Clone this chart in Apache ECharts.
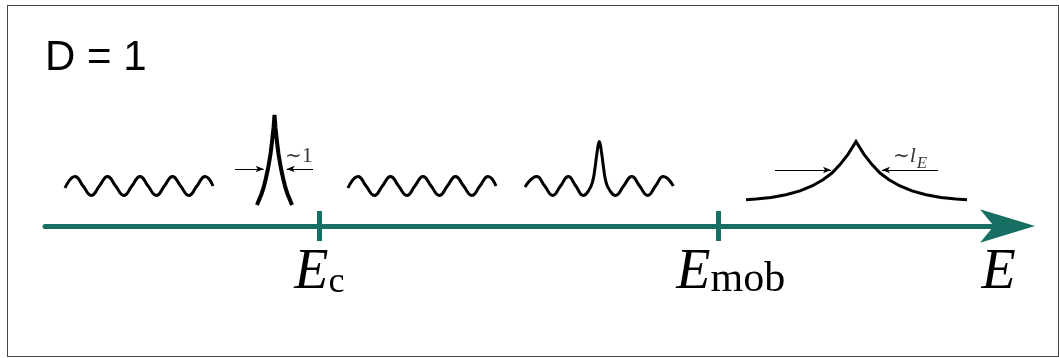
<!DOCTYPE html>
<html>
<head>
<meta charset="utf-8">
<script src="https://cdn.jsdelivr.net/npm/echarts@6/dist/echarts.min.js"></script>
<style>
  html, body { margin: 0; padding: 0; background: #fff; }
  #frame { position: absolute; left: 7px; top: 5px; width: 1052px; height: 352px; box-sizing: border-box; border: 1px solid #444; }
  #chart { position: absolute; left: 0; top: 0; width: 1059px; height: 358px; }
</style>
</head>
<body>
<div id="frame"></div>
<div id="chart"></div>
<script>
// Energy axis (horizontal) and wavefunction height (vertical), in drawing units.
const energyRange = [0, 962.5];
const heightRange = [0, 226];

// Special energies marked on the axis
const Ec = 274.3;
const Emob = 673.7;
const Eend = 953.5;
const tickEnergies = [Ec, Emob];
const labelEnergies = [Ec, Emob, Eend];
const labelTexts = ['{e|E}{s|c}', '{gap| }{e|E}{m|mob}', '{e|E}'];

// Arrowhead at the high-energy end of the axis
const axisHead = [[962.5, 0]];

// Extended state below E_c
const extendedLow = [
  [20, 38], [30, 49.5], [38.1, 40], [46.3, 30.5], [54.4, 40], [62.5, 49.5], [70.6, 40],
  [78.8, 30.5], [86.9, 40], [95, 49.5], [103.1, 40], [111.3, 30.5], [119.4, 40],
  [127.5, 49.5], [135.6, 40], [143.8, 30.5], [151.9, 40], [160, 49.5], [168, 40]
];

// Localized state at E_c (width ~1)
const localizedEc = [
  [212, 21], [214, 26], [216.5, 32], [218.5, 38], [220.5, 46], [222.5, 55], [224, 63],
  [225.5, 72], [227, 84], [228.5, 98], [229.5, 111], [230.5, 98], [232, 84], [233.5, 72],
  [235, 63], [236.5, 55], [238.5, 46], [240.5, 38], [242.5, 32], [245, 26], [247, 21]
];

// Extended state between E_c and E_mob
const extendedMid = [
  [303, 38], [313, 49.5], [321.1, 40], [329.3, 30.5], [337.4, 40], [345.5, 49.5], [353.6, 40],
  [361.8, 30.5], [369.9, 40], [378, 49.5], [386.1, 40], [394.3, 30.5], [402.4, 40],
  [410.5, 49.5], [418.6, 40], [426.8, 30.5], [434.9, 40], [443, 49.5], [451, 40]
];

// Extended state with a resonance peak
const resonant = [
  [480, 39], [491.7, 49.5], [499.7, 40], [507.7, 30.5], [515.5, 40], [523.3, 49.5],
  [530.8, 40], [538.3, 30.5], [544, 36], [547.5, 44], [550, 58], [552, 73], [554.3, 84.5],
  [556.6, 73], [558.6, 58], [561, 44], [564.5, 36], [570.5, 30.5], [578.6, 40],
  [586.7, 49.5], [594.6, 40], [602.7, 30.5], [610.5, 40], [618.3, 49.5], [628.3, 40]
];

// Localized state above E_mob (width ~l_E)
const localizedMob = [
  [701, 26.2], [711, 26.9], [726, 28.6], [741, 31.3], [755, 35.1], [767, 40], [778, 46.3],
  [787, 53], [795, 61.4], [803, 71.6], [811, 84.5], [819, 71.6], [827, 61.4], [835, 53],
  [844, 46.3], [855, 40], [867, 35.1], [881, 31.3], [896, 28.6], [911, 26.9], [922, 26.2]
];

// Width markers: [tail, head]
const widthArrows = [
  [[190, 57], [218.7, 57]],
  [[268, 57], [241.7, 57]],
  [[730, 56], [786, 56]],
  [[893, 56], [837, 56]]
];

// Width annotations: [x, y, text]
const widthNotes = [
  [240, 70, '{t|∼}{n|1}'],
  [848, 70, '{t|∼}{l|l}{sub|E}']
];

const teal = '#176e62';
const serif = 'Liberation Serif, DejaVu Serif, serif';

function curve(name, data, width, smooth) {
  return {
    type: 'line', name: name, data: data,
    smooth: smooth ? 0.5 : false,
    symbol: 'none', showSymbol: false, silent: true, z: 3,
    lineStyle: { color: '#000', width: width, join: 'miter', miterLimit: 8, cap: 'butt' }
  };
}

const chart = echarts.init(document.getElementById('chart'), null, { renderer: 'canvas' });

chart.setOption({
  animation: false,
  backgroundColor: 'transparent',
  title: {
    text: 'D = 1',
    left: 45, top: 37, padding: 0,
    textStyle: { fontFamily: 'Liberation Sans, Arial, sans-serif', fontSize: 42, fontWeight: 'normal', color: '#000' }
  },
  grid: { left: 45, right: 51.5, top: 0, bottom: 132, containLabel: false },
  xAxis: [
    {
      type: 'value', min: energyRange[0], max: energyRange[1], position: 'bottom',
      axisLine: { show: true, onZero: false, symbol: ['none', 'none'],
        lineStyle: { color: teal, width: 5 } },
      axisTick: { show: true, customValues: tickEnergies, length: 15, inside: false,
        lineStyle: { color: teal, width: 5 } },
      axisLabel: {
        show: true, customValues: labelEnergies, margin: 19,
        formatter: function (v) {
          let best = 0;
          labelEnergies.forEach(function (e, i) { if (Math.abs(e - v) < Math.abs(labelEnergies[best] - v)) best = i; });
          return labelTexts[best];
        },
        rich: {
          e: { fontFamily: serif, fontStyle: 'italic', fontSize: 56, lineHeight: 56, verticalAlign: 'bottom', color: '#000' },
          s: { fontFamily: serif, fontSize: 36, lineHeight: 42, verticalAlign: 'bottom', color: '#000' },
          m: { fontFamily: serif, fontSize: 42, lineHeight: 48, verticalAlign: 'bottom', color: '#000' },
          gap: { width: 24, fontSize: 10, lineHeight: 10 }
        }
      },
      splitLine: { show: false }
    },
    {
      type: 'value', min: energyRange[0], max: energyRange[1], position: 'bottom',
      axisLine: { show: false, onZero: false },
      axisTick: { show: true, customValues: tickEnergies, length: 15, inside: true,
        lineStyle: { color: teal, width: 5 } },
      axisLabel: { show: false },
      splitLine: { show: false }
    }
  ],
  yAxis: { type: 'value', min: heightRange[0], max: heightRange[1], show: false, splitLine: { show: false } },
  series: [
    {
      type: 'scatter', name: 'axis head', data: axisHead, silent: true, clip: false, z: 6,
      symbol: 'arrow', symbolSize: [25, 55], symbolRotate: -90, symbolOffset: [27.5, 0],
      itemStyle: { color: teal, opacity: 1 }
    },
    curve('extended below Ec', extendedLow, 3, true),
    curve('localized at Ec', localizedEc, 4, false),
    curve('extended mid', extendedMid, 3, true),
    curve('resonant', resonant, 3, true),
    curve('localized above Emob', localizedMob, 3, false),
    {
      type: 'lines', coordinateSystem: 'cartesian2d', silent: true, z: 4,
      symbol: ['none', 'arrow'], symbolSize: [1, [5, 8]],
      lineStyle: { color: '#000', width: 1, opacity: 1, curveness: 0 },
      data: widthArrows.map(function (a) { return { coords: a }; })
    },
    {
      type: 'scatter', silent: true, symbolSize: 1, z: 5,
      itemStyle: { color: 'rgba(0,0,0,0)' },
      data: widthNotes.map(function (n) { return { value: [n[0], n[1]], text: n[2] }; }),
      label: {
        show: true, position: 'inside', align: 'left', verticalAlign: 'middle',
        formatter: function (p) { return p.data.text; },
        rich: {
          t: { fontFamily: 'DejaVu Serif, serif', fontSize: 20, lineHeight: 22, verticalAlign: 'bottom', color: '#000' },
          n: { fontFamily: serif, fontSize: 22, lineHeight: 22, verticalAlign: 'bottom', color: '#000' },
          l: { fontFamily: serif, fontStyle: 'italic', fontSize: 22, lineHeight: 22, verticalAlign: 'bottom', color: '#000' },
          sub: { fontFamily: serif, fontStyle: 'italic', fontSize: 17, lineHeight: 17, verticalAlign: 'top', padding: [10, 0, 0, 1], color: '#000' }
        }
      }
    }
  ]
});
</script>
</body>
</html>
